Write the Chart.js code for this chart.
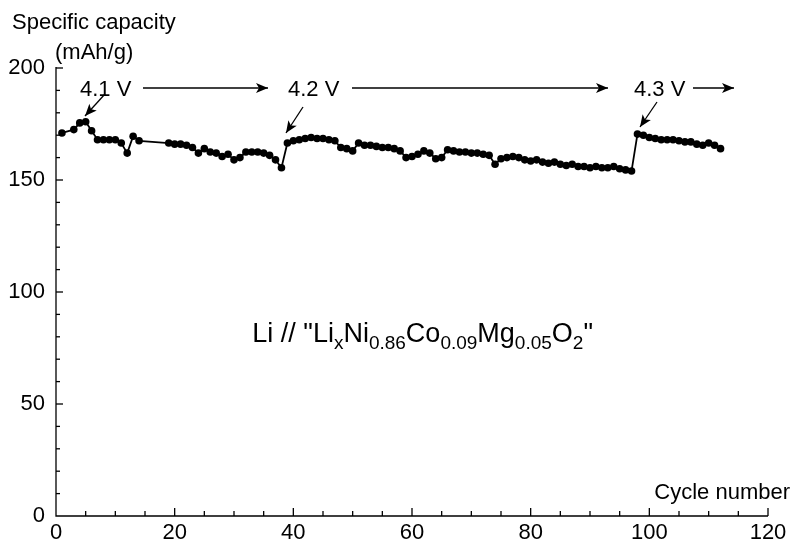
<!DOCTYPE html>
<html>
<head>
<meta charset="utf-8">
<script src="https://cdn.jsdelivr.net/npm/chart.js@4.4.1/dist/chart.umd.min.js"></script>
<style>
html,body{margin:0;padding:0;background:#fff;}
#wrap{width:794px;height:549px;position:relative;}
</style>
</head>
<body>
<div id="wrap"><canvas id="c" width="794" height="549"></canvas></div>
<script>
// ---- data ----
const cycles = [1,3,4,5,6,7,8,9,10,11,12,13,14,
  19,20,21,22,23,24,25,26,27,28,29,30,31,32,33,34,35,36,37,38,
  39,40,41,42,43,44,45,46,47,48,49,50,51,52,53,54,55,56,57,58,59,60,
  61,62,63,64,65,66,67,68,69,70,71,72,73,74,75,76,77,78,79,80,
  81,82,83,84,85,86,87,88,89,90,91,92,93,94,95,96,97,
  98,99,100,101,102,103,104,105,106,107,108,109,110,111,112];
const capacity = [171,172.5,175.5,176,172,168,168,168,168,166.5,162,169.5,167.5,
  166.5,166,166,165.5,164.5,162,164,162.5,162,160.5,161.5,159,160,162.5,162.5,162.5,162,161,159,155.5,
  166.5,167.5,168,168.5,169,168.5,168.5,168,167.5,164.5,164,163,166.5,165.5,165.5,165,164.5,164.5,164,163,160,160.5,
  161.5,163,162,159.5,160,163.5,163,162.5,162.5,162,162,161.5,161,157,159.5,160,160.5,160,159,158.5,
  159,158,157.5,158,157,156.5,157,156,156,155.5,156,155.5,155.5,156,155,154.5,154,
  170.5,170,169,168.5,168,168,168,167.5,167,167,166,165.5,166.5,165.5,164];
const xTickLabels = [0,20,40,60,80,100,120];
const yTickLabels = [0,50,100,150,200];
const voltageLabels = ["4.1 V","4.2 V","4.3 V"];

const FONT = "Arial, 'Liberation Sans', sans-serif";

const pts = cycles.map((c,i)=>({x:c,y:capacity[i]}));

function arrowHead(ctx,x1,y1,x2,y2,len,wid){
  const a=Math.atan2(y2-y1,x2-x1);
  ctx.beginPath();
  ctx.moveTo(x2,y2);
  ctx.lineTo(x2-len*Math.cos(a)+wid*Math.sin(a), y2-len*Math.sin(a)-wid*Math.cos(a));
  ctx.lineTo(x2-len*0.75*Math.cos(a), y2-len*0.75*Math.sin(a));
  ctx.lineTo(x2-len*Math.cos(a)-wid*Math.sin(a), y2-len*Math.sin(a)+wid*Math.cos(a));
  ctx.closePath();
  ctx.fill();
}
function arrow(ctx,x1,y1,x2,y2){
  ctx.beginPath();ctx.moveTo(x1,y1);ctx.lineTo(x2,y2);ctx.stroke();
  arrowHead(ctx,x1,y1,x2,y2,12,5);
}

const deco = {
  id:'deco',
  beforeDatasetsDraw(chart){
    const ctx=chart.ctx, xs=chart.scales.x, ys=chart.scales.y;
    const x0=xs.getPixelForValue(0), y0=ys.getPixelForValue(0);
    ctx.save();
    ctx.strokeStyle='#000';ctx.lineWidth=1.3;
    ctx.beginPath();
    ctx.moveTo(x0,ys.getPixelForValue(200)-1);ctx.lineTo(x0,y0);
    ctx.lineTo(xs.getPixelForValue(120),y0);
    ctx.stroke();
    for(let v=5;v<=120;v+=5){
      const px=xs.getPixelForValue(v);
      const L = (v%20===0)?8:5;
      ctx.beginPath();ctx.moveTo(px,y0);ctx.lineTo(px,y0-L);ctx.stroke();
    }
    for(let v=10;v<=200;v+=10){
      const py=ys.getPixelForValue(v);
      const L = (v%50===0)?7:4;
      ctx.beginPath();ctx.moveTo(x0,py);ctx.lineTo(x0+L,py);ctx.stroke();
    }
    ctx.restore();
  },
  afterDraw(chart){
    const ctx=chart.ctx;
    ctx.save();
    ctx.fillStyle='#000';ctx.strokeStyle='#000';ctx.lineWidth=1.3;
    ctx.font='22px '+FONT;
    ctx.textBaseline='alphabetic';
    ctx.textAlign='left';
    ctx.fillText('Specific capacity',12,29);
    ctx.fillText('(mAh/g)',55,59);
    ctx.textAlign='right';
    ctx.font='22px '+FONT;
    ctx.fillText('Cycle number',790,499);
    ctx.font='22px '+FONT;
    ctx.textAlign='left';
    const vy = 96;
    ctx.fillText(voltageLabels[0],80,vy);
    arrow(ctx,143,88,268,88);
    arrow(ctx,105,94,85,116);
    ctx.fillText(voltageLabels[1],288,vy);
    arrow(ctx,352,88,608,88);
    arrow(ctx,303,107,286,133);
    ctx.fillText(voltageLabels[2],634,vy);
    arrow(ctx,693,88,734,88);
    arrow(ctx,657,102,640,127);
    const segs=[['Li // "Li',0],['x',1],['Ni',0],['0.86',1],['Co',0],['0.09',1],['Mg',0],['0.05',1],['O',0],['2',1],['"',0]];
    const big='27px '+FONT, small='19px '+FONT;
    let w=0;
    segs.forEach(s=>{ctx.font=s[1]?small:big;w+=ctx.measureText(s[0]).width;});
    let x=593-w; const by=342;
    segs.forEach(s=>{
      ctx.font=s[1]?small:big;
      ctx.fillText(s[0],x,by+(s[1]?7:0));
      x+=ctx.measureText(s[0]).width;
    });
    ctx.restore();
  }
};

new Chart(document.getElementById('c'),{
  type:'line',
  data:{datasets:[{
    data:pts,
    borderColor:'#000',
    backgroundColor:'#000',
    borderWidth:1.8,
    pointRadius:3.8,
    pointBorderWidth:0,
    pointBackgroundColor:'#000',
    tension:0
  }]},
  options:{
    responsive:false,
    animation:false,
    events:[],
    layout:{padding:{left:0,right:26,top:68,bottom:0}},
    plugins:{legend:{display:false},tooltip:{enabled:false}},
    scales:{
      x:{type:'linear',min:0,max:120,
        afterBuildTicks(s){s.ticks=xTickLabels.map(v=>({value:v}));},
        afterFit(s){s.height=33;},
        grid:{display:false,drawTicks:false},
        border:{display:false},
        ticks:{color:'#000',font:{size:22,family:FONT},padding:4,maxRotation:0}
      },
      y:{type:'linear',min:0,max:200,
        afterBuildTicks(s){s.ticks=yTickLabels.map(v=>({value:v}));},
        afterFit(s){s.width=56;},
        grid:{display:false,drawTicks:false},
        border:{display:false},
        ticks:{color:'#000',font:{size:22,family:FONT},padding:11}
      }
    }
  },
  plugins:[deco]
});
</script>
</body>
</html>
